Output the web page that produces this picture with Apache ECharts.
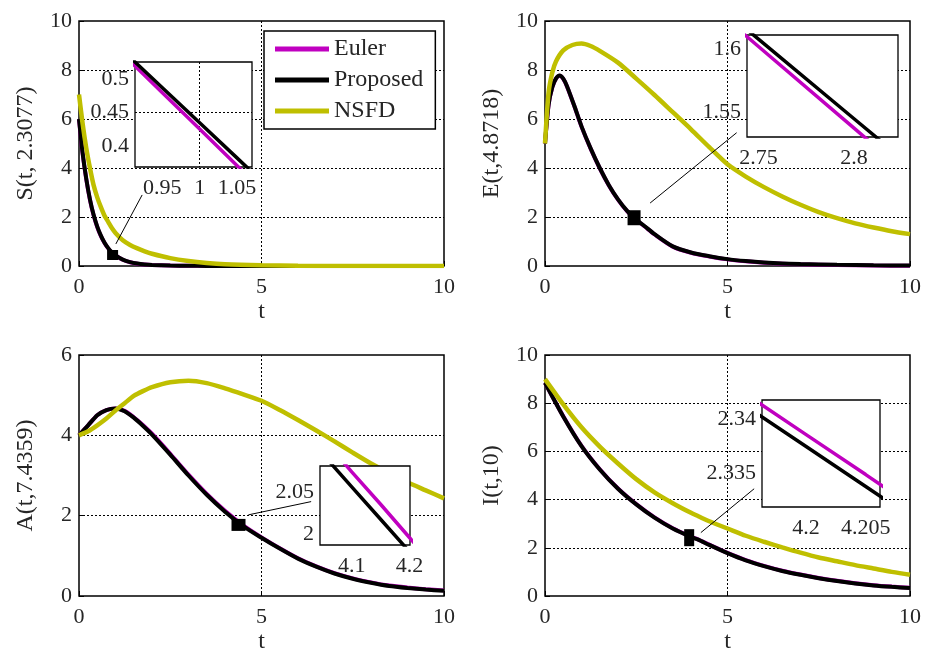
<!DOCTYPE html>
<html><head><meta charset="utf-8">
<script src="https://cdn.jsdelivr.net/npm/echarts@6/dist/echarts.min.js"></script>
<style>html,body{margin:0;padding:0;background:#fff}#c{width:933px;height:655px}</style>
</head><body><div id="c"></div>
<script>
// ---------- data ----------
const seriesNames = ['Euler', 'Proposed', 'NSFD'];
const yNames = ['S(t, 2.3077)', 'E(t,4.8718)', 'A(t,7.4359)', 'I(t,10)'];
const yMaxes = [10, 10, 6, 10];

// S(t)
const tS = [0,0.1,0.2,0.3,0.4,0.5,0.6,0.7,0.8,0.9,1.0,1.2,1.4,1.6,1.8,2.0,2.5,3,3.5,4,5,6,7,8,9,10];
const sProposed = [6.0,4.6,3.55,2.72,2.09,1.61,1.24,0.95,0.73,0.56,0.434,0.26,0.16,0.1,0.065,0.045,0.02,0.01,0.005,0.003,0.001,0,0,0,0,0];
const sEuler    = [6.0,4.58,3.53,2.7,2.07,1.59,1.22,0.94,0.72,0.55,0.427,0.255,0.155,0.095,0.062,0.043,0.019,0.009,0.005,0.003,0.001,0,0,0,0,0];
const sNSFD     = [7.0,5.8,4.8,4.0,3.3,2.8,2.4,2.05,1.8,1.55,1.35,1.05,0.86,0.72,0.6,0.5,0.32,0.2,0.12,0.07,0.03,0.01,0,0,0,0];

// E(t)
const tE = [0,0.1,0.2,0.3,0.4,0.5,0.6,0.8,1.0,1.25,1.5,1.75,2.0,2.25,2.5,2.75,3.0,3.5,4,4.5,5,5.5,6,6.5,7,8,9,10];
const eProposed = [5.0,6.6,7.3,7.65,7.78,7.65,7.35,6.55,5.7,4.8,4.0,3.3,2.72,2.25,1.9,1.6,1.3,0.8,0.55,0.4,0.28,0.2,0.14,0.1,0.08,0.05,0.03,0.02];
const eEuler    = [5.0,6.6,7.3,7.65,7.77,7.64,7.34,6.54,5.69,4.79,3.99,3.29,2.71,2.24,1.89,1.59,1.29,0.79,0.54,0.39,0.27,0.19,0.13,0.09,0.07,0.04,0.02,0.01];
const tE2 = [0,0.1,0.2,0.3,0.5,0.75,1.0,1.25,1.5,2.0,2.5,3,3.5,4,4.5,5,5.5,6,6.5,7,7.5,8,8.5,9,9.5,10];
const eNSFD     = [5.0,7.1,7.9,8.35,8.8,9.02,9.08,8.98,8.78,8.3,7.65,6.98,6.28,5.58,4.85,4.15,3.65,3.22,2.84,2.5,2.2,1.95,1.74,1.57,1.42,1.3];

// A(t)
const tA = [0,0.25,0.5,0.75,1.0,1.25,1.5,1.75,2.0,2.5,3.0,3.5,4.0,4.5,5.0,5.5,6,6.5,7,7.5,8,8.5,9,9.5,10];
const aProposed = [4.0,4.25,4.5,4.63,4.67,4.6,4.44,4.24,4.02,3.52,3.0,2.52,2.1,1.74,1.45,1.18,0.93,0.73,0.56,0.43,0.33,0.25,0.2,0.16,0.13];
const aEuler    = [4.0,4.25,4.5,4.63,4.67,4.61,4.45,4.26,4.04,3.54,3.02,2.54,2.12,1.76,1.46,1.19,0.94,0.74,0.57,0.44,0.34,0.26,0.21,0.17,0.14];
const aNSFD     = [4.0,4.1,4.25,4.42,4.62,4.8,4.98,5.1,5.2,5.32,5.36,5.3,5.17,5.02,4.86,4.63,4.38,4.12,3.85,3.57,3.3,3.06,2.83,2.63,2.43];

// I(t)
const tI = [0,0.5,1,1.5,2,2.5,3,3.5,4,4.2,4.5,5,5.5,6,6.5,7,7.5,8,8.5,9,9.5,10];
const iProposed = [8.85,7.45,6.22,5.25,4.45,3.8,3.25,2.8,2.45,2.34,2.12,1.78,1.48,1.24,1.04,0.88,0.74,0.62,0.52,0.44,0.38,0.33];
const iEuler    = [8.85,7.46,6.23,5.26,4.46,3.81,3.26,2.81,2.46,2.341,2.13,1.79,1.49,1.25,1.05,0.89,0.75,0.63,0.53,0.45,0.39,0.34];
const iNSFD     = [9.0,7.95,7.0,6.2,5.5,4.85,4.3,3.85,3.45,3.31,3.1,2.8,2.5,2.25,2.02,1.8,1.6,1.44,1.28,1.14,1.0,0.88];

// zoomed insets
const tInsS = [0.90,0.95,1.00,1.05,1.08];
const sInsProposed = [0.5393,0.4871,0.4347,0.3823,0.3509];
const sInsEuler    = [0.5338,0.4796,0.4253,0.3710,0.3384];
const tInsE = [2.73,2.75,2.80,2.83];
const eInsProposed = [1.633,1.6077,1.5445,1.5066];
const eInsEuler    = [1.6278,1.6019,1.5370,1.4981];
const tInsA = [4.05,4.10,4.15,4.20,4.22];
const aInsProposed = [2.096,2.057,2.018,1.979,1.963];
const aInsEuler    = [2.115,2.075,2.036,1.996,1.980];
const tInsI = [4.195,4.200,4.205,4.207];
const iInsProposed = [2.3412,2.3375,2.3338,2.3323];
const iInsEuler    = [2.3423,2.3386,2.3349,2.3334];

// inset axis ranges and tick labels
const insXRange = [[0.9133,1.0702],[2.744,2.823],[4.045,4.201],[4.1963,4.2062]];
const insYRange = [[0.3687,0.5254],[1.530,1.611],[1.987,2.082],[2.3319,2.3418]];
const insXTicks = [[0.95,1,1.05],[2.75,2.8],[4.1,4.2],[4.2,4.205]];
const insYTicks = [[0.4,0.45,0.5],[1.55,1.6],[2,2.05],[2.335,2.34]];

// zoom markers and connector lines (data coords of main plots)
const markT = [0.92, 2.44, 4.37, 3.95];
const markV = [0.45, 1.97, 1.77, 2.42];
const connT = [[1.01,1.73],[2.88,5.25],[4.64,6.36],[4.27,5.73]];
const connV = [[0.9,2.9],[2.57,5.44],[2.02,2.35],[2.63,4.45]];

// ---------- chart ----------
const FONT = 'Liberation Serif';
const TXT = '#262626';
const COL = {Euler:'#c000c0', Proposed:'#000000', NSFD:'#bfbf00'};
const pairs = (t, v) => t.map((x, i) => [x, v[i]]);

const mainGrids = [
  {left:79, top:21, width:365, height:245},
  {left:545, top:21, width:365, height:245},
  {left:79, top:355, width:365, height:247},
  {left:545, top:355, width:365, height:247}
];
const insetGrids = [
  {left:135, top:62, width:117, height:105},
  {left:747, top:35, width:151, height:102},
  {left:320, top:466, width:90, height:79},
  {left:762, top:400, width:118, height:107}
];
const grid = [];
mainGrids.forEach(g => grid.push(Object.assign({show:true, borderColor:'#000', borderWidth:1.5, backgroundColor:'transparent', containLabel:false}, g)));
insetGrids.forEach(g => grid.push(Object.assign({show:true, borderColor:'#000', borderWidth:1.3, backgroundColor:'#fff', z:10, containLabel:false}, g)));

const dotted = {show:true, showMinLine:false, showMaxLine:false, lineStyle:{color:'#000', width:1, type:[2,2]}};
const TICK_FS = 22, NAME_FS = 24;
const xAxis = [], yAxis = [];
for (let k = 0; k < 4; k++) {
  xAxis.push({type:'value', gridIndex:k, min:0, max:10, interval:5,
    name:'t', nameLocation:'middle', nameGap:34,
    nameTextStyle:{fontFamily:FONT, fontSize:NAME_FS, color:TXT},
    axisLine:{show:false}, axisTick:{show:true, inside:true, length:5, lineStyle:{color:'#000'}},
    axisLabel:{fontFamily:FONT, fontSize:TICK_FS, color:TXT, margin:10},
    splitLine:dotted});
  yAxis.push({type:'value', gridIndex:k, min:0, max:yMaxes[k], interval:2,
    name:yNames[k], nameLocation:'middle', nameGap:41, nameRotate:90,
    nameTextStyle:{fontFamily:FONT, fontSize:NAME_FS, color:TXT},
    axisLine:{show:false}, axisTick:{show:true, inside:true, length:5, lineStyle:{color:'#000'}},
    axisLabel:{fontFamily:FONT, fontSize:TICK_FS, color:TXT, margin:7},
    splitLine:dotted});
}
for (let k = 0; k < 4; k++) {
  xAxis.push({type:'value', gridIndex:4+k, min:insXRange[k][0], max:insXRange[k][1], z:11,
    axisLine:{show:false},
    axisTick:{show:false, customValues:insXTicks[k]},
    axisLabel:{fontFamily:FONT, fontSize:TICK_FS, color:TXT, margin:10, customValues:insXTicks[k]},
    splitLine:dotted});
  yAxis.push({type:'value', gridIndex:4+k, min:insYRange[k][0], max:insYRange[k][1], z:11,
    axisLine:{show:false},
    axisTick:{show:false, customValues:insYTicks[k]},
    axisLabel:{fontFamily:FONT, fontSize:TICK_FS, color:TXT, margin:6, customValues:insYTicks[k]},
    splitLine:dotted});
}

const mainData = [
  {Euler:[tS,sEuler], Proposed:[tS,sProposed], NSFD:[tS,sNSFD]},
  {Euler:[tE,eEuler], Proposed:[tE,eProposed], NSFD:[tE2,eNSFD]},
  {Euler:[tA,aEuler], Proposed:[tA,aProposed], NSFD:[tA,aNSFD]},
  {Euler:[tI,iEuler], Proposed:[tI,iProposed], NSFD:[tI,iNSFD]}
];
const insData = [
  {Euler:[tInsS,sInsEuler], Proposed:[tInsS,sInsProposed]},
  {Euler:[tInsE,eInsEuler], Proposed:[tInsE,eInsProposed]},
  {Euler:[tInsA,aInsEuler], Proposed:[tInsA,aInsProposed]},
  {Euler:[tInsI,iInsEuler], Proposed:[tInsI,iInsProposed]}
];
const zOf = {Euler:2, Proposed:3, NSFD:4};
const markSize = [[11,10],[13,15],[14,12],[10,17]];

const series = [];
for (let k = 0; k < 4; k++) {
  seriesNames.forEach(n => {
    const d = mainData[k][n];
    series.push({type:'line', name:n, xAxisIndex:k, yAxisIndex:k, data:pairs(d[0], d[1]),
      symbol:'none', smooth:0.25, z:zOf[n],
      lineStyle:{color:COL[n], width:n === 'NSFD' ? 4.5 : 4}, itemStyle:{color:COL[n]}});
  });
  series.push({type:'line', name:'conn' + k, xAxisIndex:k, yAxisIndex:k,
    data:pairs(connT[k], connV[k]), symbol:'none', z:5,
    lineStyle:{color:'#000', width:1}});
  series.push({type:'scatter', name:'mark' + k, xAxisIndex:k, yAxisIndex:k,
    data:[[markT[k], markV[k]]], symbol:'rect', symbolSize:markSize[k], z:6,
    itemStyle:{color:'#000', opacity:1}});
  ['Euler','Proposed'].forEach(n => {
    const d = insData[k][n];
    series.push({type:'line', name:n, xAxisIndex:4+k, yAxisIndex:4+k, data:pairs(d[0], d[1]),
      symbol:'none', z:12 + zOf[n],
      lineStyle:{color:COL[n], width:3.5}, itemStyle:{color:COL[n]}});
  });
}

const chart = echarts.init(document.getElementById('c'), null, {renderer:'canvas'});
chart.setOption({
  animation:false,
  backgroundColor:'#fff',
  grid, xAxis, yAxis, series,
  legend:{data:seriesNames, orient:'vertical', left:264, top:31,
    icon:'rect', itemWidth:54, itemHeight:5, itemGap:7,
    padding:[6,12,6,11], backgroundColor:'#fff', borderColor:'#000', borderWidth:1.5,
    textStyle:{fontFamily:FONT, fontSize:NAME_FS, color:TXT, lineHeight:24}, z:20}
});
</script></body></html>
